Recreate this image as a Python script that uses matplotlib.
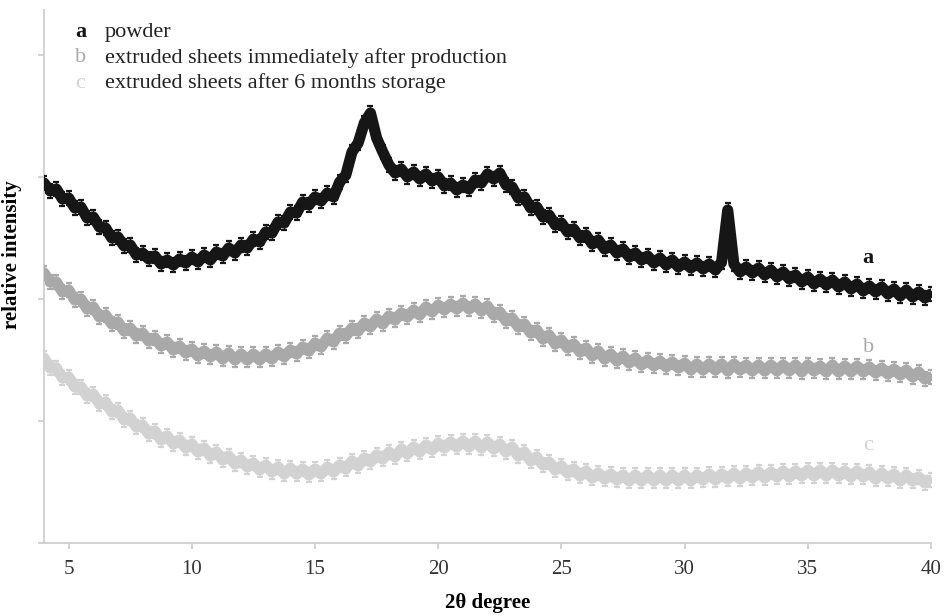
import numpy as np
import matplotlib
matplotlib.use("Agg")
import matplotlib.pyplot as plt

plt.rcParams['font.family'] = ['Liberation Serif', 'DejaVu Serif']

# 2-theta grid, 0.25 degree steps from 4 to 40
two_theta = np.arange(4.0, 40.001, 0.25)

# relative intensity (arbitrary units)
powder = [
    360, 352, 354, 344, 345, 335, 336, 325, 326, 316, 315, 305,
    306, 297, 298, 288, 290, 284, 287, 279, 283, 278, 284, 280,
    286, 281, 288, 283, 291, 287, 295, 290, 298, 295, 304, 301,
    311, 310, 321, 320, 331, 330, 341, 338, 346, 342, 350, 346,
    361, 368, 391, 400, 420, 430, 405, 391, 378, 370, 374, 366,
    371, 364, 369, 362, 366, 357, 360, 353, 358, 354, 363, 360,
    369, 364, 370, 358, 356, 345, 346, 335, 336, 326, 328, 318,
    320, 311, 314, 305, 308, 299, 303, 294, 298, 290, 294, 286,
    290, 283, 287, 280, 285, 278, 283, 276, 281, 275, 280, 274,
    279, 273, 281, 333, 279, 271, 276, 270, 275, 268, 273, 266,
    271, 264, 268, 261, 266, 259, 264, 258, 263, 256, 261, 254,
    259, 252, 257, 251, 256, 249, 254, 247, 253, 246, 251, 245,
    249,
]
sheets_fresh = [
    270, 261, 261, 251, 253, 243, 244, 234, 236, 226, 228, 219,
    221, 212, 215, 207, 210, 202, 205, 197, 201, 193, 197, 190,
    194, 187, 192, 186, 191, 184, 190, 183, 189, 183, 189, 183,
    189, 184, 191, 186, 193, 189, 196, 192, 200, 196, 205, 201,
    210, 207, 215, 212, 220, 216, 224, 219, 227, 223, 230, 226,
    233, 228, 236, 231, 238, 233, 239, 234, 240, 234, 239, 232,
    237, 228, 231, 222, 225, 216, 219, 210, 213, 204, 208, 199,
    203, 195, 199, 191, 195, 187, 192, 184, 189, 182, 187, 180,
    185, 178, 183, 177, 182, 176, 181, 175, 180, 173, 179, 173,
    179, 173, 179, 172, 179, 173, 178, 172, 178, 172, 178, 172,
    178, 172, 178, 171, 178, 172, 177, 171, 178, 171, 177, 171,
    177, 171, 176, 170, 175, 169, 174, 168, 173, 166, 171, 164,
    166,
]
sheets_stored = [
    185, 175, 175, 165, 166, 156, 156, 147, 149, 139, 141, 131,
    133, 123, 125, 116, 118, 109, 112, 103, 107, 99, 103, 95,
    99, 91, 95, 87, 91, 83, 87, 79, 83, 76, 80, 73,
    78, 71, 76, 69, 75, 69, 74, 68, 74, 69, 76, 71,
    78, 74, 82, 77, 85, 81, 88, 84, 91, 86, 94, 89,
    96, 91, 98, 93, 100, 95, 101, 96, 102, 96, 102, 95,
    101, 94, 99, 91, 96, 87, 91, 82, 86, 78, 81, 73,
    77, 70, 74, 67, 72, 65, 70, 64, 69, 63, 68, 62,
    68, 62, 68, 62, 68, 62, 68, 62, 68, 62, 68, 63,
    69, 63, 69, 64, 70, 64, 70, 65, 71, 65, 71, 66,
    72, 66, 72, 67, 73, 67, 73, 67, 73, 67, 72, 66,
    72, 66, 71, 64, 70, 64, 69, 62, 68, 62, 66, 60,
    63,
]

letters = ['a', 'b', 'c']
legend_text = ['powder',
               'extruded sheets immediately after production',
               'extruded sheets after 6 months storage']
colors = ['#161616', '#a9a9a9', '#d2d2d2']
label_at = [(37.45, 285), (37.45, 196), (37.45, 98)]

fig = plt.figure(figsize=(9.45, 6.16), dpi=100)
ax = fig.add_axes([44 / 945, 1 - 543 / 616, 887 / 945, 533 / 616])

for y, c in zip([sheets_stored, sheets_fresh, powder], colors[::-1]):
    ax.plot(two_theta, y, color=c, lw=8, solid_capstyle='round', zorder=2)
    ax.errorbar(two_theta, y, yerr=7, fmt='s', ms=4, color=c, ecolor=c,
                elinewidth=0.9, capsize=2.2, capthick=1.6, zorder=3)

for (lx, ly), let, c in zip(label_at, letters, colors):
    ax.text(lx, ly, let, color=c, fontsize=16, ha='center', va='center',
            fontweight='bold' if let == 'a' else 'normal')

for i, (let, txt, c) in enumerate(zip(letters, legend_text, colors)):
    yb = 1 - (37 + 25.5 * i) / 616
    fig.text(75 / 945, yb, let, color=c, fontsize=16, va='baseline',
             fontweight='bold' if let == 'a' else 'normal')
    fig.text(105 / 945, yb, txt, color='#222222', fontsize=16, va='baseline')

ax.set_xlim(4, 40)
ax.set_ylim(0, 533)
ax.set_xticks([5, 10, 15, 20, 25, 30, 35, 40])
ax.set_yticks([0, 122, 244, 366, 488])
ax.set_yticklabels([])
for s in ['top', 'right']:
    ax.spines[s].set_visible(False)
for s in ['left', 'bottom']:
    ax.spines[s].set_color('#cfcfcf')
    ax.spines[s].set_linewidth(1.3)
ax.tick_params(axis='both', color='#cfcfcf', width=1.3, length=4,
               labelsize=15, labelcolor='#333333', pad=8)
ax.set_xlabel('2θ degree', fontsize=15, fontweight='bold', labelpad=10)
ax.set_ylabel('relative intensity', fontsize=15, fontweight='bold')
ax.yaxis.set_label_coords(-22 / 887, (543 - 255) / 533)

fig.savefig('out.png', dpi=100, facecolor='white')
